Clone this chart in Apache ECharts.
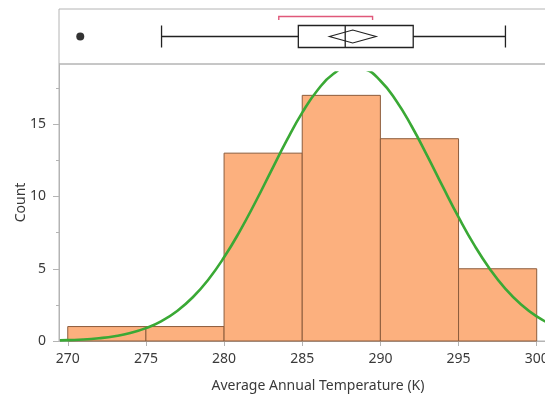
<!DOCTYPE html>
<html>
<head>
<meta charset="utf-8">
<script src="https://cdn.jsdelivr.net/npm/echarts@6/dist/echarts.min.js"></script>
<style>
html,body{margin:0;padding:0;background:#fff;}
#c{width:545px;height:395px;}
</style>
</head>
<body>
<div id="c"></div>
<script>
// ---- data ----
const binStarts = [270, 275, 280, 285, 290, 295];
const binEnds   = [275, 280, 285, 290, 295, 300];
const counts    = [1, 1, 13, 17, 14, 5];

// box plot: min whisker, Q1, median, Q3, max whisker
const boxStats = [276, 284.75, 287.75, 292.1, 298];
const outliers = [270.8];
// mean diamond: lower CI, mean, upper CI
const meanDiamond = [286.74, 288.23, 289.72];
// shortest half bracket
const shortestHalf = [283.5, 289.5];

// fitted normal curve
const curveX = [269.5, 270, 271, 272, 273, 274, 275, 276, 277, 278, 279, 280, 281, 282, 283, 284, 285, 286, 287, 288, 289, 290, 291, 292, 293, 294, 295, 296, 297, 298, 299, 300, 301, 302];
const curveY = [0.04, 0.06, 0.10, 0.19, 0.33, 0.55, 0.89, 1.38, 2.08, 3.03, 4.26, 5.79, 7.59, 9.60, 11.74, 13.86, 15.80, 17.39, 18.49, 18.98, 18.81, 18.01, 16.65, 14.86, 12.81, 10.66, 8.57, 6.65, 4.99, 3.61, 2.52, 1.70, 1.11, 0.70];

const xTicks = [270, 275, 280, 285, 290, 295, 300];
const yTicks = [0, 5, 10, 15];
const xMin = 269.44, xMax = 301.49;
const yMax = 19.17;
const curveClip = 18.58;

// ---- chart ----
const chart = echarts.init(document.getElementById('c'), null, {renderer: 'canvas'});
const FONT = 'Noto Sans';
const gray = '#b4b4b4';
const txt = '#3a3a3a';
const plotW = 501;

const histData = binStarts.map((s, i) => [s, binEnds[i], counts[i]]);
const curveData = curveX.map((x, i) => [x, curveY[i]]);

const hiddenAxis = {axisLine: {show: false}, axisTick: {show: false}, axisLabel: {show: false}, splitLine: {show: false}};
const gridBase = {left: 59, width: plotW, outerBoundsMode: 'none', containLabel: false};

chart.setOption({
  animation: false,
  backgroundColor: '#fff',
  textStyle: {fontFamily: FONT},
  grid: [
    Object.assign({top: 64, bottom: 54, show: true, borderColor: gray, borderWidth: 1}, gridBase),
    Object.assign({top: 9, height: 55, show: true, borderColor: gray, borderWidth: 1}, gridBase),
    // same vertical scale as grid 0; its top edge clips the fitted curve
    Object.assign({top: 72.5, bottom: 54, show: false}, gridBase)
  ],
  xAxis: [
    {
      type: 'value', gridIndex: 0, min: xMin, max: xMax,
      name: 'Average Annual Temperature (K)', nameLocation: 'middle', nameGap: 38,
      nameMoveOverlap: false,
      nameTextStyle: {fontFamily: FONT, fontSize: 14, color: txt, padding: [0, 0, 0, 17]},
      axisLine: {show: true, lineStyle: {color: gray}},
      axisTick: {show: true, length: 5, lineStyle: {color: gray}, customValues: xTicks},
      axisLabel: {fontFamily: FONT, fontSize: 14, color: txt, margin: 11, customValues: xTicks},
      splitLine: {show: false}
    },
    Object.assign({type: 'value', gridIndex: 1, min: xMin, max: xMax}, hiddenAxis),
    Object.assign({type: 'value', gridIndex: 2, min: xMin, max: xMax}, hiddenAxis)
  ],
  yAxis: [
    {
      type: 'value', gridIndex: 0, min: 0, max: yMax, interval: 5,
      name: 'Count', nameLocation: 'middle', nameGap: 31, nameRotate: 90,
      nameMoveOverlap: false,
      nameTextStyle: {fontFamily: FONT, fontSize: 14, color: txt},
      axisLine: {show: true, lineStyle: {color: gray}},
      axisTick: {show: true, length: 6, lineStyle: {color: gray}, customValues: yTicks},
      minorTick: {show: true, splitNumber: 2, length: 3, lineStyle: {color: gray}},
      axisLabel: {fontFamily: FONT, fontSize: 14, color: txt, margin: 13, customValues: yTicks},
      splitLine: {show: false}
    },
    Object.assign({type: 'category', gridIndex: 1, data: ['T']}, hiddenAxis),
    Object.assign({type: 'value', gridIndex: 2, min: 0, max: curveClip}, hiddenAxis)
  ],
  series: [
    {
      type: 'custom', xAxisIndex: 0, yAxisIndex: 0,
      data: histData,
      encode: {x: [0, 1], y: 2},
      renderItem: function (params, api) {
        const p0 = api.coord([api.value(0), api.value(2)]);
        const p1 = api.coord([api.value(1), 0]);
        return {
          type: 'rect',
          shape: {x: p0[0], y: p0[1], width: p1[0] - p0[0], height: p1[1] - p0[1]},
          style: {fill: '#fcb07e', stroke: '#8c5c3c', lineWidth: 1}
        };
      },
      z: 2
    },
    {
      type: 'line', xAxisIndex: 2, yAxisIndex: 2,
      data: curveData, smooth: true, showSymbol: false, clip: true,
      lineStyle: {width: 2.6, color: '#3aa935'},
      z: 3
    },
    {
      type: 'boxplot', xAxisIndex: 1, yAxisIndex: 1,
      boxWidth: [22, 22],
      data: [boxStats],
      itemStyle: {color: '#fff', borderColor: '#222', borderWidth: 1.3},
      z: 2
    },
    {
      type: 'scatter', xAxisIndex: 1, yAxisIndex: 1,
      data: outliers.map(v => [v, 0]),
      symbolSize: 8, itemStyle: {color: '#000'}, z: 4
    },
    {
      type: 'custom', xAxisIndex: 1, yAxisIndex: 1,
      data: [[meanDiamond[0], meanDiamond[1], meanDiamond[2], 0]],
      encode: {x: [0, 1, 2], y: 3},
      renderItem: function (params, api) {
        const l = api.coord([api.value(0), 0]);
        const m = api.coord([api.value(1), 0]);
        const r = api.coord([api.value(2), 0]);
        const h = 6.5;
        return {
          type: 'polygon',
          shape: {points: [[l[0], l[1]], [m[0], m[1] - h], [r[0], r[1]], [m[0], m[1] + h]]},
          style: {fill: 'none', stroke: '#222', lineWidth: 1.2}
        };
      },
      z: 5
    },
    {
      type: 'custom', xAxisIndex: 1, yAxisIndex: 1,
      data: [[shortestHalf[0], shortestHalf[1], 0]],
      encode: {x: [0, 1], y: 2},
      renderItem: function (params, api) {
        const a = api.coord([api.value(0), 0]);
        const b = api.coord([api.value(1), 0]);
        const top = a[1] - 20, foot = a[1] - 16.5;
        return {
          type: 'polyline',
          shape: {points: [[a[0], foot], [a[0], top], [b[0], top], [b[0], foot]]},
          style: {fill: 'none', stroke: '#e0587a', lineWidth: 1.4}
        };
      },
      z: 5
    }
  ]
});
</script>
</body>
</html>
